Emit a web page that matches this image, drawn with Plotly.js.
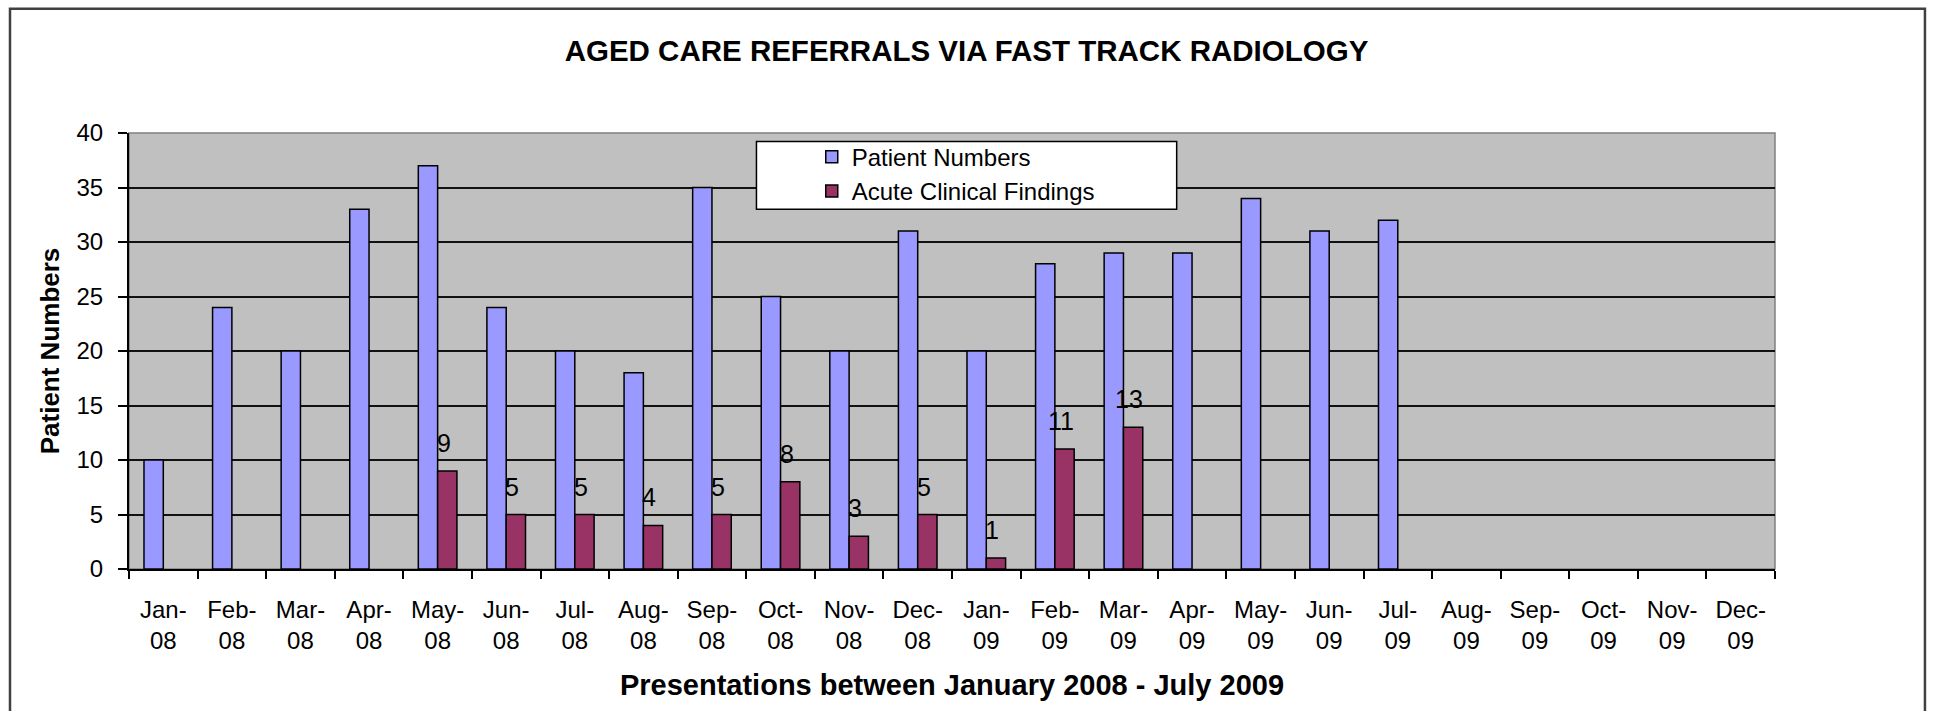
<!DOCTYPE html>
<html>
<head>
<meta charset="utf-8">
<script src="https://cdn.plot.ly/plotly-3.0.1.min.js"></script>
<style>
  html, body { margin: 0; padding: 0; background: #ffffff; }
  #chart { width: 1933px; height: 711px; }
</style>
</head>
<body>
<div id="chart"></div>
<script>
// ---- data ----
const months = ["Jan-<br>08","Feb-<br>08","Mar-<br>08","Apr-<br>08","May-<br>08","Jun-<br>08",
                "Jul-<br>08","Aug-<br>08","Sep-<br>08","Oct-<br>08","Nov-<br>08","Dec-<br>08",
                "Jan-<br>09","Feb-<br>09","Mar-<br>09","Apr-<br>09","May-<br>09","Jun-<br>09",
                "Jul-<br>09","Aug-<br>09","Sep-<br>09","Oct-<br>09","Nov-<br>09","Dec-<br>09"];
const patientNumbers = [10,24,20,33,37,24,20,18,35,25,20,31,20,28,29,29,34,31,32,null,null,null,null,null];
const acuteFindings  = [null,null,null,null,9,5,5,4,5,8,3,5,1,11,13,null,null,null,null,null,null,null,null,null];
const seriesNames = ["Patient Numbers","Acute Clinical Findings"];
const yTicks = [0,5,10,15,20,25,30,35,40];

const FONT = "Liberation Sans, Arial, Helvetica, sans-serif";

const traces = [
  {
    type: "bar", name: seriesNames[0], x: months, y: patientNumbers,
    marker: { color: "#9999FF", line: { color: "#000000", width: 1.5 } },
    hoverinfo: "skip"
  },
  {
    type: "bar", name: seriesNames[1], x: months, y: acuteFindings,
    marker: { color: "#993366", line: { color: "#000000", width: 1.5 } },
    hoverinfo: "skip"
  }
];

// value labels above the red bars
const annotations = [];
acuteFindings.forEach((v, i) => {
  if (v === null) return;
  annotations.push({
    x: months[i], y: v, xref: "x", yref: "y",
    text: String(v), showarrow: false,
    xshift: 6, yshift: 28, yanchor: "middle", xanchor: "center",
    font: { family: FONT, size: 25, color: "#000000" }
  });
});

const layout = {
  width: 1933, height: 711,
  margin: { l: 129, r: 158, t: 133, b: 142, pad: 0 },
  paper_bgcolor: "#ffffff",
  plot_bgcolor: "#C0C0C0",
  font: { family: FONT, color: "#000000" },
  title: {
    text: "<b>AGED CARE REFERRALS VIA FAST TRACK RADIOLOGY</b>",
    font: { family: FONT, size: 29.5, color: "#000000" },
    x: 0.5, xref: "container", xanchor: "center",
    y: 0.929, yref: "container", yanchor: "middle"
  },
  barmode: "group",
  bargap: 0.437,
  bargroupgap: 0,
  showlegend: true,
  legend: {
    x: 0.4148, y: 0.996, xanchor: "left", yanchor: "top",
    bgcolor: "rgba(0,0,0,0)", borderwidth: 0,
    font: { family: FONT, size: 24, color: "#000000" },
    tracegroupgap: 0
  },
  xaxis: {
    type: "category",
    tickson: "boundaries",
    ticks: "outside", ticklen: 8, tickwidth: 2, tickcolor: "#000000",
    showline: true, linecolor: "#000000", linewidth: 2,
    showgrid: false, zeroline: false,
    tickfont: { family: FONT, size: 24, color: "#000000" },
    ticklabelstandoff: 18,
    title: {
      text: "<b>Presentations between January 2008 - July 2009</b>",
      font: { family: FONT, size: 29, color: "#000000" },
      standoff: 22
    },
    fixedrange: true
  },
  yaxis: {
    range: [0, 40],
    tickvals: yTicks,
    ticktext: yTicks.map(String),
    ticks: "outside", ticklen: 9, tickwidth: 2, tickcolor: "#000000",
    showline: true, linecolor: "#000000", linewidth: 2,
    showgrid: true, gridcolor: "#111111", gridwidth: 2,
    zeroline: false,
    tickfont: { family: FONT, size: 24, color: "#000000" },
    ticklabelstandoff: 10,
    title: {
      text: "<b>Patient Numbers</b>",
      font: { family: FONT, size: 26, color: "#000000" },
      standoff: 9
    },
    fixedrange: true
  },
  shapes: [
    // plot area frame (top/right grey edge)
    { type: "rect", xref: "paper", yref: "paper", x0: 0, x1: 1, y0: 0, y1: 1,
      line: { color: "#808080", width: 1.5 }, layer: "below" },
    // legend box
    { type: "rect", xref: "paper", yref: "paper", x0: 0.3812, x1: 0.6365, y0: 0.8252, y1: 0.9807,
      fillcolor: "#ffffff", line: { color: "#000000", width: 1.5 }, layer: "above" },
    // outer chart border
    { type: "rect", xref: "paper", yref: "paper", x0: -0.0723, x1: 1.0911, y0: -0.36, y1: 1.285,
      line: { color: "#404040", width: 2.5 }, layer: "above" }
  ],
  annotations: annotations
};

Plotly.newPlot("chart", traces, layout, { displayModeBar: false, staticPlot: true });
</script>
</body>
</html>
